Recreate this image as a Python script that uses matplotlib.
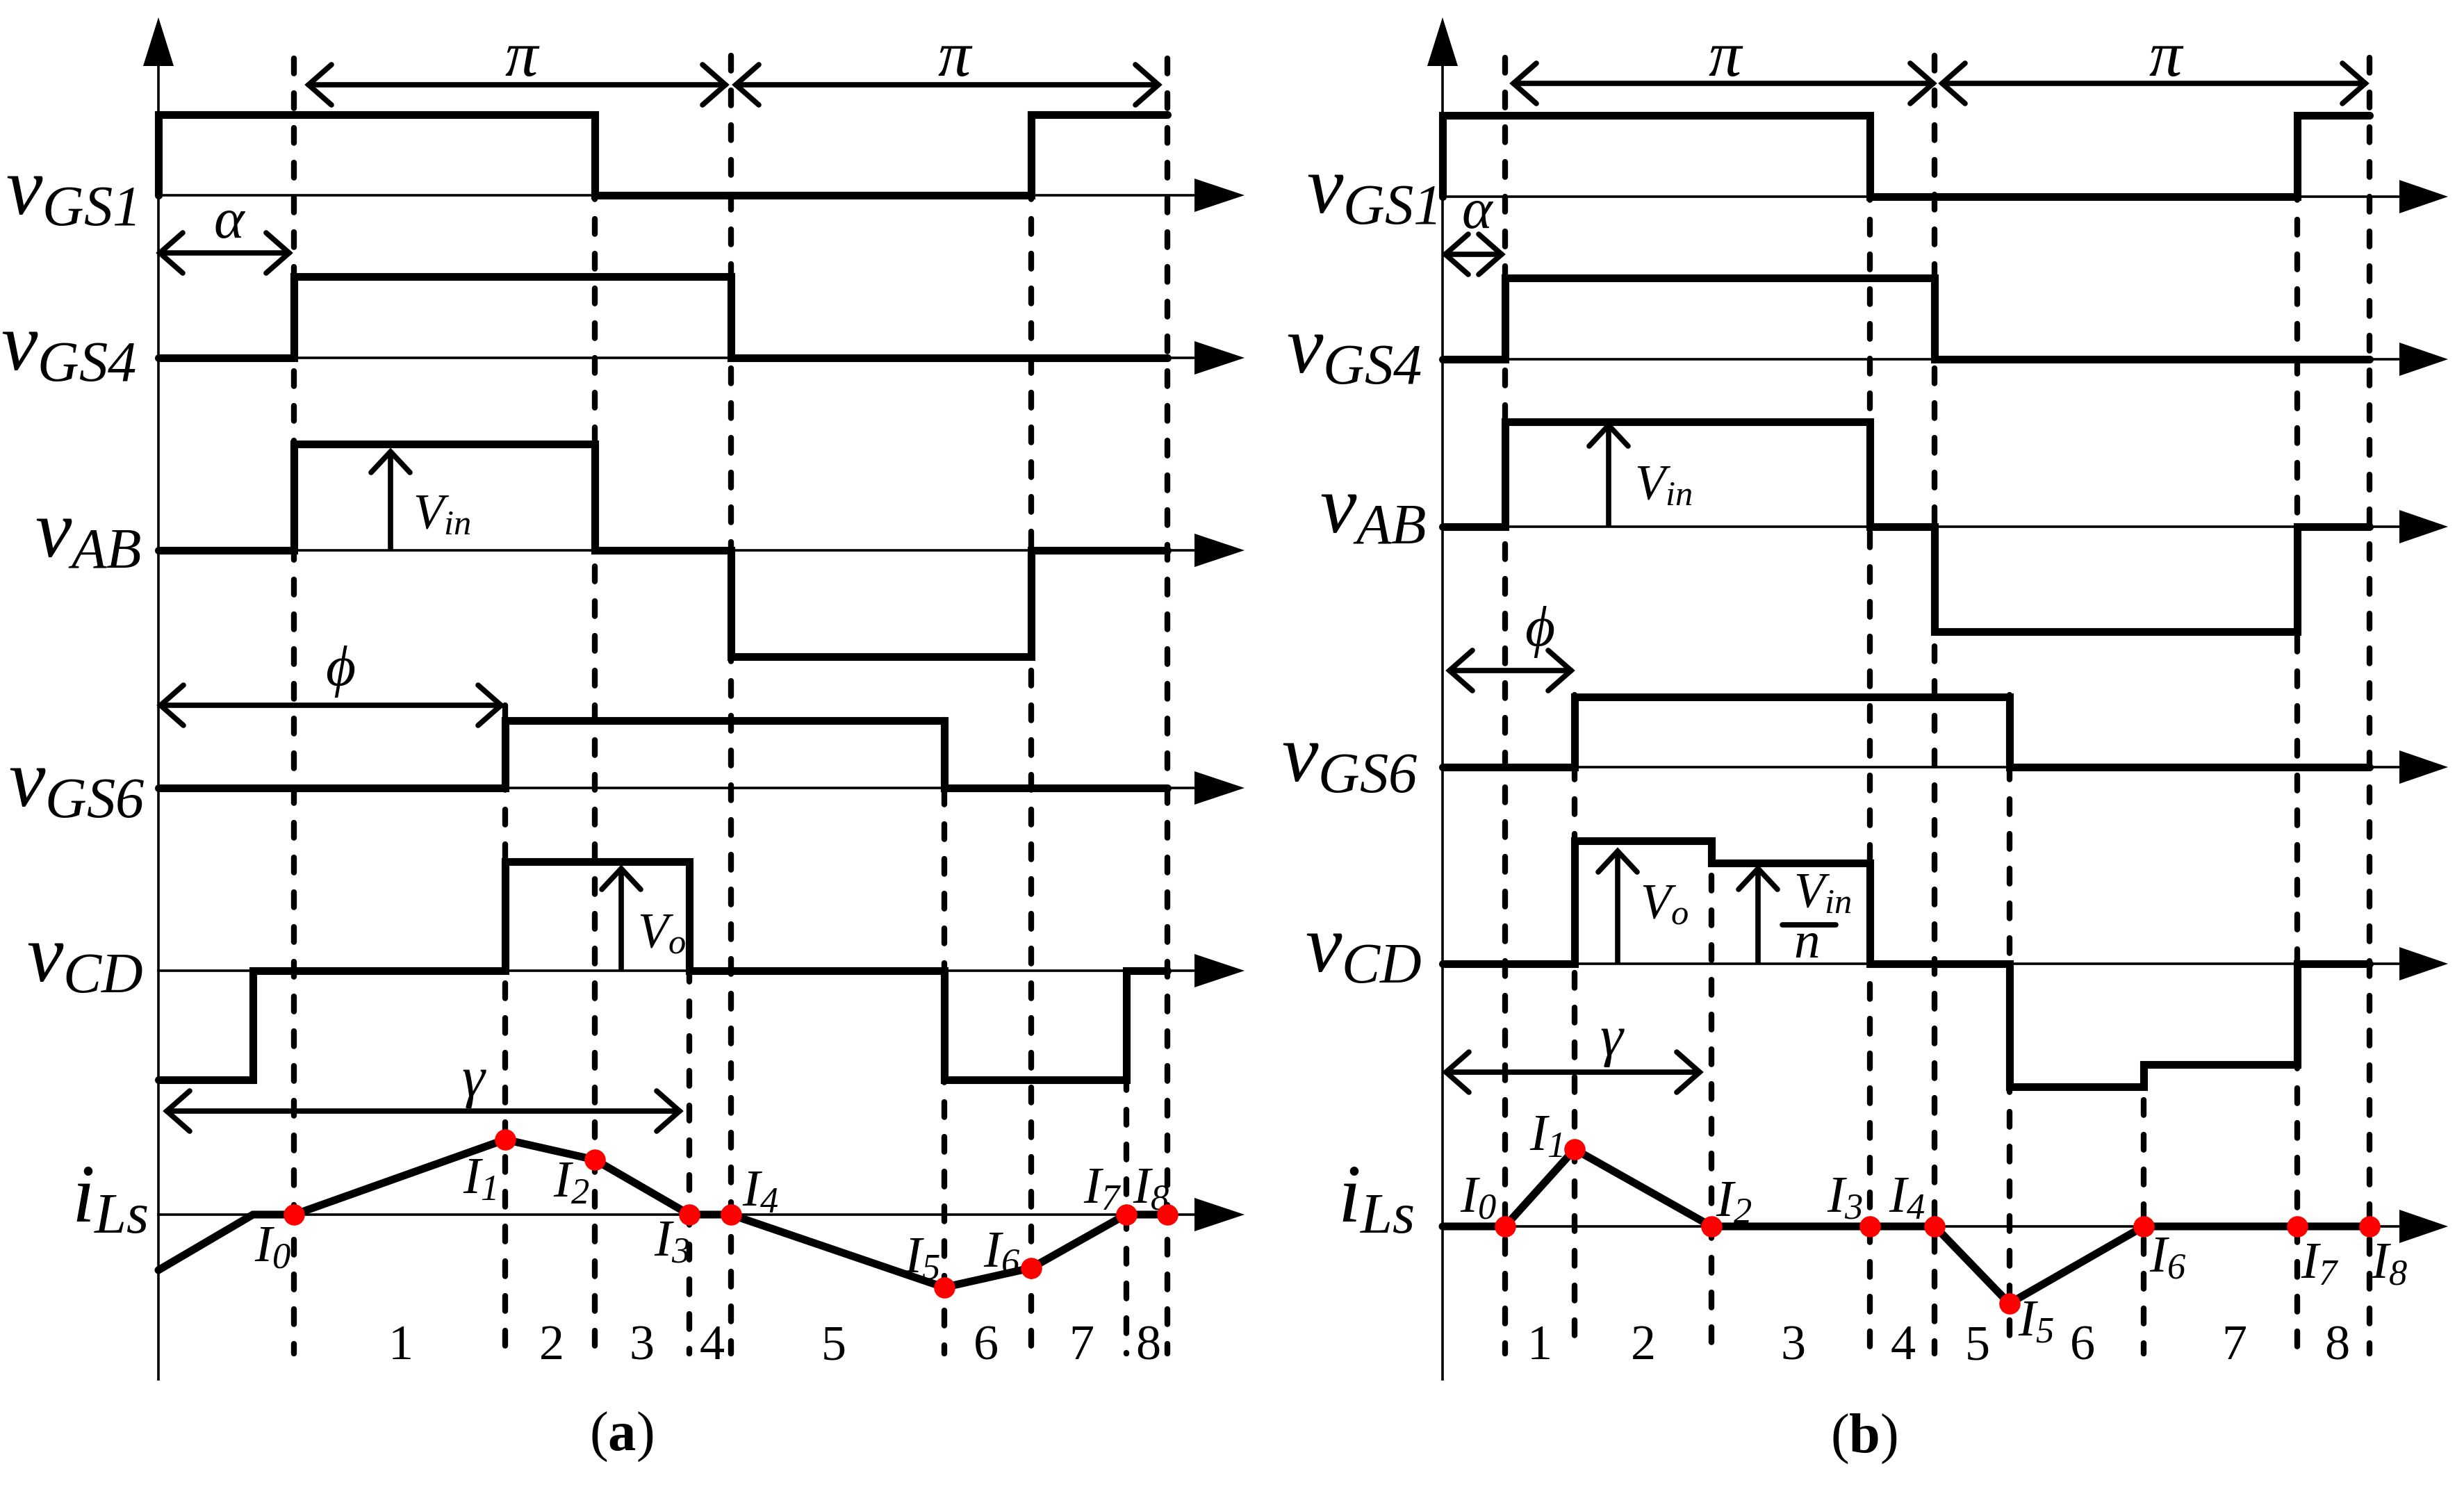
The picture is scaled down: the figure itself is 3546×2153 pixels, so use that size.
import matplotlib
matplotlib.use("Agg")
import matplotlib.pyplot as plt

plt.rcParams['mathtext.fontset'] = 'custom'
# digits in the labels are italic in the original, so rm is italic too
plt.rcParams['mathtext.rm'] = 'Liberation Serif:italic'
plt.rcParams['mathtext.it'] = 'Liberation Serif:italic'
plt.rcParams['mathtext.sf'] = 'Liberation Serif'
plt.rcParams['mathtext.bf'] = 'Liberation Serif:bold'
SERIF = ['Liberation Serif', 'DejaVu Serif']

# ---------------- data (switching instants in degrees) ----------------
# panel (a)
a_gs1_t = [0, 0, 180, 360, 416]
a_gs1_v = [0, 1, 0, 1]
a_gs4_t = [0, 56, 236, 416]
a_gs4_v = [0, 1, 0]
a_ab_t = [0, 56, 180, 236, 360, 416]
a_ab_v = [0, 1, 0, -1, 0]
a_gs6_t = [0, 143, 324, 416]
a_gs6_v = [0, 1, 0]
a_cd_t = [0, 39, 143, 219, 324, 399, 416]
a_cd_v = [-1, 0, 1, 0, -1, 0]
a_il_t = [0, 39, 56, 143, 180, 219, 236, 324, 360, 399, 416]
a_il_v = [-0.74, 0, 0, 1, 0.73, 0, 0, -0.97, -0.71, 0, 0]
a_dash_t = [56, 143, 180, 219, 236, 324, 360, 399, 416]

# panel (b)
b_gs1_t = [0, 0, 178, 356, 386]
b_gs1_v = [0, 1, 0, 1]
b_gs4_t = [0, 26, 205, 386]
b_gs4_v = [0, 1, 0]
b_ab_t = [0, 26, 178, 205, 356, 386]
b_ab_v = [0, 1, 0, -1, 0]
b_gs6_t = [0, 55, 236, 386]
b_gs6_v = [0, 1, 0]
b_cd_t = [0, 55, 112, 178, 236, 292, 356, 386]
b_cd_v = [0, 1, 0.82, 0, -1, -0.82, 0]
b_il_t = [0, 26, 55, 112, 178, 205, 236, 292, 356, 386]
b_il_v = [0, 0, 1, 0, 0, 0, -1, 0, 0, 0]
b_dash_t = [26, 55, 112, 178, 205, 236, 292, 356, 386]

row_names = [r'$v_{GS1}$', r'$v_{GS4}$', r'$v_{AB}$',
             r'$v_{GS6}$', r'$v_{CD}$', r'$i_{Ls}$']
seg_labels = ['1', '2', '3', '4', '5', '6', '7', '8']
i_labels = ['0', '1', '2', '3', '4', '5', '6', '7', '8']

# ---------------- layout (pixels of the 3546x2153 canvas) ----------------
W, H = 3546, 2153
fig = plt.figure(figsize=(W / 100, H / 100), dpi=100)
ax = fig.add_axes([0, 0, 1, 1])
ax.set_xlim(0, W)
ax.set_ylim(H, 0)
ax.axis('off')

THICK, MED, DASH, THIN = 8.0, 5.5, 6.0, 2.6

panels = {
    'a': dict(x0=228, sx=3.49, xend=1719, xtip=1791,
              base=[281, 515, 792, 1134, 1397, 1748],
              amp=[116, 117, 153, 97, 157, 108],
              lab_x=[196, 196, 203, 208, 206, 213],
              lab_dy=[27, 18, 10, 27, 16, 10],
              dash_top=[84, 1015, 165, 1241, 80, 1036, 165, 1397, 84],
              signals=[(a_gs1_t, a_gs1_v), (a_gs4_t, a_gs4_v), (a_ab_t, a_ab_v),
                       (a_gs6_t, a_gs6_v), (a_cd_t, a_cd_v)],
              il=(a_il_t, a_il_v), dots=range(2, 11), dash=a_dash_t),
    'b': dict(x0=2076, sx=3.456, xend=3453, xtip=3523,
              base=[283, 517, 758, 1104, 1387, 1765],
              amp=[117, 117, 151, 101, 177, 111],
              lab_x=[2068, 2046, 2052, 2040, 2046, 2035],
              lab_dy=[24, 20, 9, 20, 12, -6],
              dash_top=[83, 1000, 1210, 166, 80, 1000, 1533, 166, 83],
              signals=[(b_gs1_t, b_gs1_v), (b_gs4_t, b_gs4_v), (b_ab_t, b_ab_v),
                       (b_gs6_t, b_gs6_v), (b_cd_t, b_cd_v)],
              il=(b_il_t, b_il_v), dots=range(1, 10), dash=b_dash_t),
}


def step_xy(edges, levels):
    xs, ys = [], []
    for i, lv in enumerate(levels):
        xs += [edges[i], edges[i + 1]]
        ys += [lv, lv]
    return xs, ys


def harrow(x1, x2, y, lw=MED):
    ax.plot([x1, x2], [y, y], color='k', lw=lw, solid_capstyle='round')
    for xt, d in ((x1, 1), (x2, -1)):
        ax.plot([xt + d * 33, xt, xt + d * 33], [y - 29, y, y + 29], color='k',
                lw=lw, solid_capstyle='round', solid_joinstyle='miter')


def varrow(x, yb, yt, lw=MED):
    ax.plot([x, x], [yb, yt], color='k', lw=lw, solid_capstyle='butt')
    ax.plot([x - 28, x, x + 28], [yt + 30, yt, yt + 30], color='k', lw=lw,
            solid_capstyle='round', solid_joinstyle='miter')


def txt(x, y, s, size, style='italic', ha='center', va='center'):
    ax.text(x, y, s, fontsize=size, family=SERIF, style=style, ha=ha, va=va)


for key, p in panels.items():
    x0, sx = p['x0'], p['sx']

    def X(t):
        return [x0 + v * sx for v in t]

    # vertical axis with filled arrow
    ax.plot([x0, x0], [1985, 90], color='k', lw=THIN)
    ax.fill([x0 - 22, x0, x0 + 22], [95, 25, 95], color='k', lw=0)

    # baselines with filled arrows + row labels
    for r, b in enumerate(p['base']):
        ax.plot([x0, p['xend']], [b, b], color='k', lw=THIN)
        ax.fill([p['xend'], p['xtip'], p['xend']], [b - 24, b, b + 24], color='k', lw=0)
        ax.text(p['lab_x'][r], b + p['lab_dy'][r], row_names[r], fontsize=85,
                ha='right', va='baseline')

    # dashed event lines
    for t, top in zip(p['dash'], p['dash_top']):
        xx = x0 + t * sx
        ax.plot([xx, xx], [top, 1948], color='k', lw=DASH,
                linestyle=(0, (2.6, 3.4)), dash_capstyle='round')

    # square-wave signals
    for r, (t, v) in enumerate(p['signals']):
        xs, ys = step_xy(t, v)
        ax.plot(X(xs), [p['base'][r] - y * p['amp'][r] for y in ys], color='k',
                lw=THICK, solid_joinstyle='miter', solid_capstyle='round')

    # inductor current
    t, v = p['il']
    yl = [p['base'][5] - y * p['amp'][5] for y in v]
    ax.plot(X(t), yl, color='k', lw=THICK, solid_joinstyle='miter',
            solid_capstyle='round')
    di = list(p['dots'])
    ax.plot([X(t)[i] for i in di], [yl[i] for i in di], 'o', color='#ff0000',
            markersize=22, markeredgewidth=0, zorder=5)

# ---------------- annotations panel (a) ----------------
harrow(444, 1044, 122)
harrow(1059, 1667, 122)
txt(750, 86, 'π', 68)
txt(1373, 86, 'π', 68)
harrow(230, 416, 364)
txt(329, 322, 'α', 60)
varrow(562, 792, 650)
ax.text(594, 760, r'$V_{in}$', fontsize=52, ha='left', va='baseline')
harrow(231, 721, 1015)
txt(490, 966, 'ϕ', 60)
varrow(894, 1397, 1250)
ax.text(917, 1364, r'$V_{o}$', fontsize=52, ha='left', va='baseline')
harrow(240, 978, 1599)
txt(681, 1557, 'γ', 60)

a_i_pos = [(392, 1795), (690, 1697), (822, 1702), (967, 1787), (1094, 1715),
           (1327, 1811), (1442, 1803), (1587, 1711), (1656, 1711)]
for n, (x, y) in zip(i_labels, a_i_pos):
    ax.text(x, y, r'$I_{%s}$' % n, fontsize=54, ha='center', va='center')
a_seg_x = [577, 794, 923, 1025, 1200, 1419, 1556, 1652]
for s, x in zip(seg_labels, a_seg_x):
    txt(x, 1939, s, 52, style='normal')
ax.text(894, 2067, r'$\mathsf{(}\mathbf{a}\mathsf{)}$', fontsize=58, ha='center', va='center')

# ---------------- annotations panel (b) ----------------
harrow(2178, 2782, 120)
harrow(2795, 3404, 120)
txt(2482, 86, 'π', 68)
txt(3116, 86, 'π', 68)
harrow(2080, 2161, 366)
txt(2125, 308, 'α', 60)
varrow(2315, 758, 612)
ax.text(2352, 718, r'$V_{in}$', fontsize=52, ha='left', va='baseline')
harrow(2086, 2261, 965)
txt(2216, 909, 'ϕ', 60)
varrow(2328, 1387, 1225)
ax.text(2360, 1322, r'$V_{o}$', fontsize=52, ha='left', va='baseline')
varrow(2530, 1387, 1250)
ax.text(2581, 1305, r'$V_{in}$', fontsize=52, ha='left', va='baseline')
ax.plot([2565, 2642], [1331, 1331], color='k', lw=MED, solid_capstyle='round')
txt(2600, 1360, 'n', 54)
harrow(2081, 2446, 1543)
txt(2319, 1498, 'γ', 60)

b_i_pos = [(2127, 1724), (2225, 1635), (2495, 1730), (2655, 1724), (2744, 1724),
           (2930, 1902), (3120, 1810), (3339, 1819), (3438, 1819)]
for n, (x, y) in zip(i_labels, b_i_pos):
    ax.text(x, y, r'$I_{%s}$' % n, fontsize=54, ha='center', va='center')
b_seg_x = [2216, 2365, 2580, 2739, 2846, 2997, 3215, 3363]
for s, x in zip(seg_labels, b_seg_x):
    txt(x, 1939, s, 52, style='normal')
ax.text(2682, 2070, r'$\mathsf{(}\mathbf{b}\mathsf{)}$', fontsize=58, ha='center', va='center')

fig.savefig('out.png', dpi=100)
